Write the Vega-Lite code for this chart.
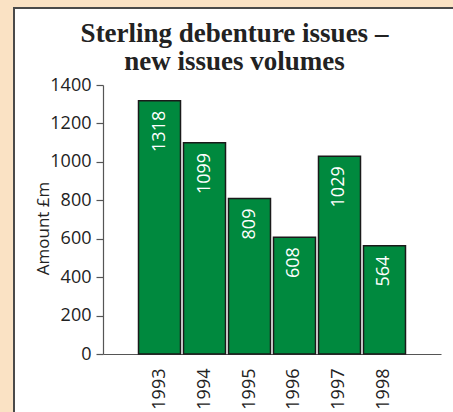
{
  "$schema": "https://vega.github.io/schema/vega-lite/v6.json",
  "autosize": {"type": "none"},
  "padding": {"left": 14, "top": 8, "right": -2, "bottom": -2},
  "width": 441,
  "height": 406,
  "background": "#fae2c4",
  "config": {
    "view": {"fill": "white", "stroke": "#4a4a4a", "strokeWidth": 2},
    "font": "Open Sans"
  },
  "title": {
    "text": ["Sterling debenture issues –", "new issues volumes"],
    "font": "Liberation Serif",
    "fontSize": 27,
    "fontWeight": "bold",
    "color": "#222222",
    "lineHeight": 28,
    "anchor": "middle",
    "offset": -68
  },
  "data": {
    "values": [
      {"year": "1993", "amount": 1318},
      {"year": "1994", "amount": 1099},
      {"year": "1995", "amount": 809},
      {"year": "1996", "amount": 608},
      {"year": "1997", "amount": 1029},
      {"year": "1998", "amount": 564}
    ]
  },
  "encoding": {
    "x": {
      "field": "year",
      "type": "nominal",
      "sort": null,
      "scale": {"range": [89, 427], "paddingInner": 0.0667, "paddingOuter": 0.789},
      "axis": {
        "title": null,
        "offset": -60,
        "labelAngle": 270,
        "labelFont": "Open Sans",
        "labelFontSize": 18,
        "labelColor": "#222222",
        "labelPadding": 14,
        "ticks": false,
        "domainColor": "#555555",
        "domainWidth": 1.2
      }
    },
    "y": {
      "field": "amount",
      "type": "quantitative",
      "scale": {"domain": [0, 1400], "range": [346, 77], "nice": false, "zero": true},
      "axis": {
        "title": "Amount £m",
        "titleFont": "Open Sans",
        "titleFontSize": 17,
        "titleFontWeight": "normal",
        "titleColor": "#222222",
        "titleAngle": 270,
        "titleBaseline": "alphabetic",
        "titleX": -55,
        "titleY": 220,
        "offset": -89,
        "values": [0, 200, 400, 600, 800, 1000, 1200, 1400],
        "format": "d",
        "grid": false,
        "labelFont": "Open Sans",
        "labelFontSize": 18,
        "labelColor": "#222222",
        "labelPadding": 5,
        "tickSize": 7,
        "tickColor": "#555555",
        "tickWidth": 1.2,
        "domainColor": "#555555",
        "domainWidth": 1.2
      }
    }
  },
  "layer": [
    {
      "mark": {"type": "bar", "fill": "#00893e", "stroke": "#1a1a1a", "strokeWidth": 1.5}
    },
    {
      "mark": {
        "type": "text",
        "angle": 270,
        "align": "right",
        "baseline": "middle",
        "dx": -10,
        "color": "white",
        "font": "Open Sans",
        "fontSize": 18
      },
      "encoding": {"text": {"field": "amount", "type": "quantitative"}}
    }
  ]
}
